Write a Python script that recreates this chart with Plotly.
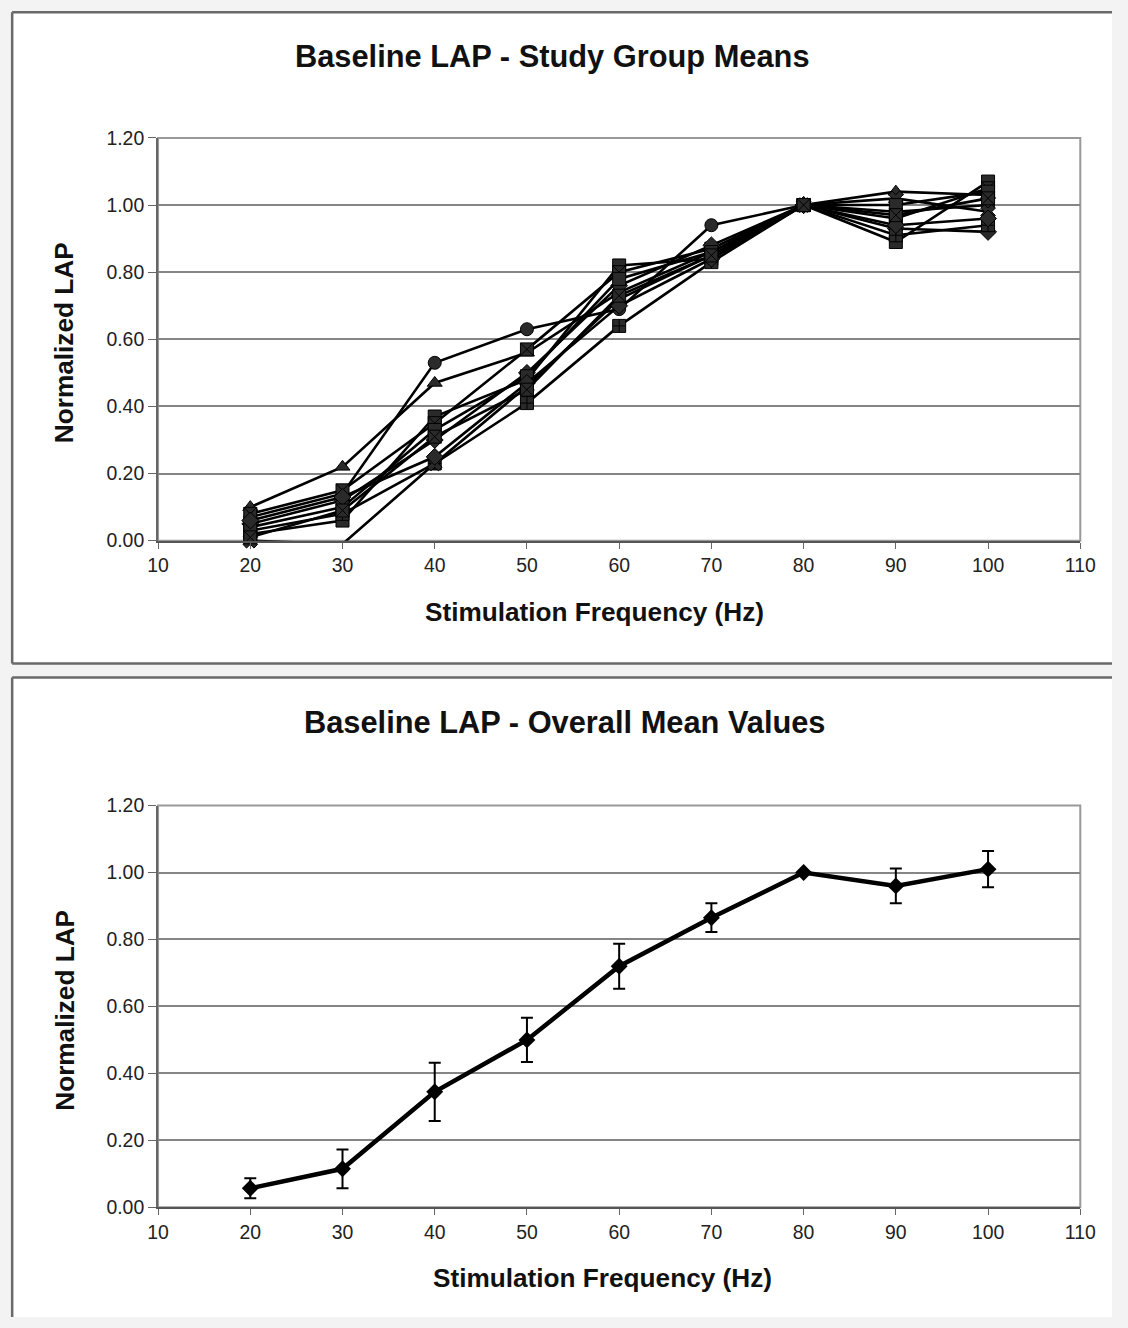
import plotly.graph_objects as go

W, H = 1128, 1328

# ---------------- data ----------------
freq = [20, 30, 40, 50, 60, 70, 80, 90, 100]

group_a = [0.07, 0.14, 0.53, 0.63, 0.69, 0.94, 1.00, 0.98, 1.00]
group_b = [0.10, 0.22, 0.47, 0.56, 0.74, 0.86, 1.00, 1.04, 1.03]
group_c = [0.02, 0.06, 0.37, 0.48, 0.82, 0.84, 1.00, 0.89, 1.07]
group_d = [0.08, 0.15, 0.35, 0.57, 0.80, 0.87, 1.00, 0.96, 1.05]
group_e = [0.05, 0.12, 0.30, 0.50, 0.76, 0.88, 1.00, 0.93, 0.92]
group_f = [0.03, 0.08, 0.23, 0.41, 0.64, 0.83, 1.00, 0.91, 0.94]
group_g = [0.00, -0.01, 0.23, 0.46, 0.72, 0.85, 1.00, 1.02, 0.98]
group_h = [0.04, 0.10, 0.33, 0.49, 0.78, 0.86, 1.00, 1.00, 1.04]
group_i = [0.06, 0.13, 0.25, 0.47, 0.70, 0.84, 1.00, 0.94, 0.96]
group_j = [0.01, 0.09, 0.31, 0.45, 0.73, 0.85, 1.00, 0.97, 1.02]

group_names = ["Group A", "Group B", "Group C", "Group D", "Group E",
               "Group F", "Group G", "Group H", "Group I", "Group J"]
group_values = [group_a, group_b, group_c, group_d, group_e,
                group_f, group_g, group_h, group_i, group_j]
group_symbols = ["circle", "triangle-up", "square", "square-x", "diamond",
                 "square-cross", "x", "square", "diamond", "square-x"]

overall_mean = [0.057, 0.115, 0.345, 0.50, 0.72, 0.865, 1.00, 0.96, 1.01]
overall_err = [0.030, 0.058, 0.087, 0.066, 0.067, 0.043, 0.0, 0.052, 0.054]

x_ticks = [10, 20, 30, 40, 50, 60, 70, 80, 90, 100, 110]
y_ticks = [0.0, 0.2, 0.4, 0.6, 0.8, 1.0, 1.2]
y_ticklabels = ["0.00", "0.20", "0.40", "0.60", "0.80", "1.00", "1.20"]

# ---------------- helpers ----------------
# map a pixel position measured on the reference picture to figure pixels
SX, OX = 0.979, 9.5
SY, OY = 0.984, 10.0

def px_x(p):
    return ((p - OX) / SX) / W

def px_y(p):
    return 1 - ((p - OY) / SY) / H

FONT = "Liberation Sans, Arial, sans-serif"

fig = go.Figure()

for name, vals, sym in zip(group_names, group_values, group_symbols):
    fig.add_trace(go.Scatter(
        x=freq, y=vals, mode="lines+markers", name=name,
        line=dict(color="#000000", width=2.6),
        marker=dict(symbol=sym, size=13, color="#2a2a2a",
                    line=dict(color="#000000", width=1)),
        xaxis="x", yaxis="y", showlegend=False, cliponaxis=False))

fig.add_trace(go.Scatter(
    x=freq, y=overall_mean, mode="lines+markers", name="Overall mean",
    line=dict(color="#000000", width=4.5),
    marker=dict(symbol="diamond", size=13, color="#000000"),
    error_y=dict(type="data", array=overall_err, visible=True,
                 color="#000000", thickness=2, width=6),
    xaxis="x2", yaxis="y2", showlegend=False))

xdom = [px_x(157), px_x(1082)]
top_dom = [px_y(540), px_y(137)]
bot_dom = [px_y(1207), px_y(805)]

TICK_SIZE = 19.4

def xaxis_cfg(anchor):
    return dict(domain=xdom, range=[10, 110], tickmode="array",
                tickvals=x_ticks, ticks="outside", ticklen=6,
                tickcolor="#666", showline=True, linecolor="#555",
                linewidth=2, mirror=False, showgrid=False, zeroline=False,
                tickfont=dict(family=FONT, size=TICK_SIZE, color="#222"),
                anchor=anchor)

def yaxis_cfg(dom, anchor):
    return dict(domain=dom, range=[0, 1.2], tickmode="array",
                tickvals=y_ticks, ticktext=y_ticklabels, ticks="outside",
                ticklen=8, tickcolor="#666", showline=True, linecolor="#666",
                linewidth=2, showgrid=True, gridcolor="#858585",
                gridwidth=1.5, zeroline=False,
                tickfont=dict(family=FONT, size=TICK_SIZE, color="#222"),
                anchor=anchor)

def hline(y, x0=0.0, x1=1.0, color="#6a6a6a", width=2.5):
    return dict(type="line", xref="paper", yref="paper",
                x0=x0, x1=x1, y0=y, y1=y,
                line=dict(color=color, width=width), layer="below")

def vline(x, y0, y1, color="#6a6a6a", width=2.5):
    return dict(type="line", xref="paper", yref="paper",
                x0=x, x1=x, y0=y0, y1=y1,
                line=dict(color=color, width=width), layer="below")

top_panel_bottom = px_y(663)
bot_panel_top = px_y(677)
edge_x = 1.2 / W
edge_y = 1 - 1.2 / H

shapes = [
    # panel backgrounds
    dict(type="rect", xref="paper", yref="paper",
         x0=edge_x, x1=1, y0=top_panel_bottom, y1=edge_y,
         fillcolor="white", line=dict(width=0), layer="below"),
    dict(type="rect", xref="paper", yref="paper",
         x0=edge_x, x1=1, y0=0, y1=bot_panel_top,
         fillcolor="white", line=dict(width=0), layer="below"),
    # panel borders (right side is cut off in the original)
    hline(edge_y, x0=edge_x),
    vline(edge_x, top_panel_bottom, edge_y),
    hline(top_panel_bottom, x0=edge_x),
    hline(bot_panel_top, x0=edge_x),
    vline(edge_x, 0, bot_panel_top),
    # plot-area frames (top/right)
    dict(type="rect", xref="paper", yref="paper",
         x0=xdom[0], x1=xdom[1], y0=top_dom[0], y1=top_dom[1],
         line=dict(color="#999999", width=2), layer="below"),
    dict(type="rect", xref="paper", yref="paper",
         x0=xdom[0], x1=xdom[1], y0=bot_dom[0], y1=bot_dom[1],
         line=dict(color="#999999", width=2), layer="below"),
]

TITLE_SIZE = 30.8
AXT_SIZE = 26.2

def label(text, x, y, size, angle=0):
    return dict(text=text, x=px_x(x), y=px_y(y), xref="paper", yref="paper",
                xanchor="center", yanchor="middle", showarrow=False,
                textangle=angle, font=dict(family=FONT, size=size, color="#111"))

annotations = [
    label("<b>Baseline LAP - Study Group Means</b>", 553, 56, TITLE_SIZE),
    label("<b>Baseline LAP - Overall Mean Values</b>", 565, 722, TITLE_SIZE),
    label("<b>Stimulation Frequency (Hz)</b>", 595, 611, AXT_SIZE),
    label("<b>Stimulation Frequency (Hz)</b>", 603, 1278, AXT_SIZE),
    label("<b>Normalized LAP</b>", 62, 342, AXT_SIZE, angle=-90),
    label("<b>Normalized LAP</b>", 64, 1010, AXT_SIZE, angle=-90),
]

fig.update_layout(
    width=W, height=H, margin=dict(l=0, r=0, t=0, b=0),
    paper_bgcolor="#f3f3f3", plot_bgcolor="white",
    xaxis=xaxis_cfg("y"), yaxis=yaxis_cfg(top_dom, "x"),
    xaxis2=xaxis_cfg("y2"), yaxis2=yaxis_cfg(bot_dom, "x2"),
    shapes=shapes, annotations=annotations,
    font=dict(family=FONT),
)

fig.write_html(
    "out.html",
    config={"displayModeBar": False},
    post_script="document.body.style.margin='0px';document.body.style.overflow='hidden';",
)
